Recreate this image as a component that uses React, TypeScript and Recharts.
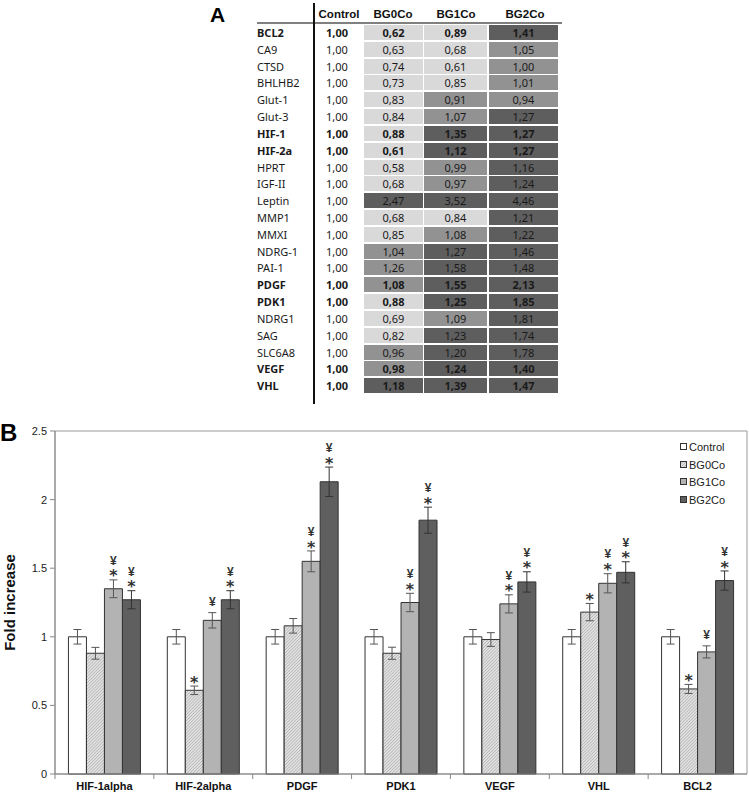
import React from 'react';
import { BarChart, Bar, XAxis, YAxis, ErrorBar, LabelList, Legend, ReferenceArea, ReferenceLine } from 'recharts';

// ---------- Panel A table data ----------
const tableHeaders = ['Control', 'BG0Co', 'BG1Co', 'BG2Co'];
const tableGenes = ['BCL2', 'CA9', 'CTSD', 'BHLHB2', 'Glut-1', 'Glut-3', 'HIF-1', 'HIF-2a', 'HPRT', 'IGF-II', 'Leptin', 'MMP1', 'MMXI', 'NDRG-1', 'PAI-1', 'PDGF', 'PDK1', 'NDRG1', 'SAG', 'SLC6A8', 'VEGF', 'VHL'];
const tableControl = [1, 1, 1, 1, 1, 1, 1, 1, 1, 1, 1, 1, 1, 1, 1, 1, 1, 1, 1, 1, 1, 1];
const tableBG0 = [0.62, 0.63, 0.74, 0.73, 0.83, 0.84, 0.88, 0.61, 0.58, 0.68, 2.47, 0.68, 0.85, 1.04, 1.26, 1.08, 0.88, 0.69, 0.82, 0.96, 0.98, 1.18];
const tableBG1 = [0.89, 0.68, 0.61, 0.85, 0.91, 1.07, 1.35, 1.12, 0.99, 0.97, 3.52, 0.84, 1.08, 1.27, 1.58, 1.55, 1.25, 1.09, 1.23, 1.2, 1.24, 1.39];
const tableBG2 = [1.41, 1.05, 1.0, 1.01, 0.94, 1.27, 1.27, 1.27, 1.16, 1.24, 4.46, 1.21, 1.22, 1.46, 1.48, 2.13, 1.85, 1.81, 1.74, 1.78, 1.4, 1.47];
// change class of each cell: 0 = low, 1 = unchanged, 2 = high
const tableLevel0 = [0, 0, 0, 0, 0, 0, 0, 0, 0, 0, 2, 0, 0, 1, 1, 1, 0, 0, 0, 1, 1, 2];
const tableLevel1 = [0, 0, 0, 0, 1, 1, 2, 2, 1, 1, 2, 0, 1, 2, 2, 2, 2, 1, 2, 2, 2, 2];
const tableLevel2 = [2, 1, 1, 1, 1, 2, 2, 2, 2, 2, 2, 2, 2, 2, 2, 2, 2, 2, 2, 2, 2, 2];
const tableBoldGenes = ['BCL2', 'HIF-1', 'HIF-2a', 'PDGF', 'PDK1', 'VEGF', 'VHL'];

// ---------- Panel B chart data ----------
const categories = ['HIF-1alpha', 'HIF-2alpha', 'PDGF', 'PDK1', 'VEGF', 'VHL', 'BCL2'];
const seriesNames = ['Control', 'BG0Co', 'BG1Co', 'BG2Co'];
const controlValues = [1, 1, 1, 1, 1, 1, 1];
const bg0Values = [0.88, 0.61, 1.08, 0.88, 0.98, 1.18, 0.62];
const bg1Values = [1.35, 1.12, 1.55, 1.25, 1.24, 1.39, 0.89];
const bg2Values = [1.27, 1.27, 2.13, 1.85, 1.4, 1.47, 1.41];
const controlErr = [0.053, 0.053, 0.053, 0.053, 0.053, 0.053, 0.053];
const bg0Err = [0.043, 0.031, 0.053, 0.044, 0.05, 0.063, 0.033];
const bg1Err = [0.065, 0.056, 0.076, 0.067, 0.066, 0.07, 0.044];
const bg2Err = [0.066, 0.066, 0.107, 0.095, 0.074, 0.077, 0.07];
const bg0Sig = ['', '*', '', '', '', '*', '*'];
const bg1Sig = ['¥*', '¥', '¥*', '¥*', '¥*', '¥*', '¥'];
const bg2Sig = ['¥*', '¥*', '¥*', '¥*', '¥*', '¥*', '¥*'];
const yTicks = [0, 0.5, 1, 1.5, 2, 2.5];

const chartData = categories.map((name, i) => ({
  name,
  control: controlValues[i],
  controlErr: controlErr[i],
  bg0: bg0Values[i],
  bg0Err: bg0Err[i],
  bg1: bg1Values[i],
  bg1Err: bg1Err[i],
  bg2: bg2Values[i],
  bg2Err: bg2Err[i],
}));

const shadeColors = ['#d9d9d9', '#929292', '#5e5e5e'];
const seriesFills = ['#ffffff', 'url(#hatch)', '#b3b3b3', '#5f5f5f'];
const ARIAL = 'Arial, "Liberation Sans", sans-serif';
const TABLE_FONT = '"Noto Sans", "Open Sans", sans-serif';

const fmt = (v: number) => v.toFixed(2).replace('.', ',');

// table layout
const ROW_TOP = 25;
const ROW_PITCH = 16.82;
const CELL_H = 15;
const valueCols = [
  { left: 314, width: 46 },
  { left: 364, width: 59 },
  { left: 424, width: 63 },
  { left: 489, width: 69 },
];
const headerCenters = [339, 393, 456, 525];

function TablePanel() {
  const valueSets = [tableControl, tableBG0, tableBG1, tableBG2];
  const levelSets = [null, tableLevel0, tableLevel1, tableLevel2];
  return (
    <div style={{ position: 'absolute', left: 0, top: 0, width: 749, height: 420 }}>
      <div style={{ position: 'absolute', left: 210, top: 3.5, fontFamily: ARIAL, fontWeight: 'bold', fontSize: 21, lineHeight: '21px' }}>A</div>
      {tableHeaders.map((h, j) => (
        <div key={h} style={{ position: 'absolute', left: headerCenters[j] - 40, width: 80, top: 6, textAlign: 'center', fontFamily: ARIAL, fontWeight: 'bold', fontSize: 11.5, color: '#111', lineHeight: '16px' }}>{h}</div>
      ))}
      <div style={{ position: 'absolute', left: 257, top: 22, width: 305, height: 2, background: '#808080' }} />
      <div style={{ position: 'absolute', left: 313, top: 3, width: 2, height: 401, background: '#111' }} />
      {tableGenes.map((g, i) => {
        const top = ROW_TOP + i * ROW_PITCH;
        const bold = tableBoldGenes.includes(g);
        return (
          <React.Fragment key={g}>
            <div style={{ position: 'absolute', left: 257, top, height: CELL_H, lineHeight: CELL_H + 'px', fontFamily: TABLE_FONT, fontSize: 11, fontWeight: bold ? 'bold' : 'normal', color: '#1a1a1a' }}>{g}</div>
            {valueSets.map((vals, j) => {
              const lv = levelSets[j];
              const bg = lv ? shadeColors[lv[i]] : 'transparent';
              return (
                <div key={j} style={{ position: 'absolute', left: valueCols[j].left, width: valueCols[j].width, top, height: CELL_H, lineHeight: CELL_H + 'px', background: bg, textAlign: 'center', fontFamily: TABLE_FONT, fontSize: 11, fontWeight: bold ? 'bold' : 'normal', color: '#1a1a1a' }}>{fmt(vals[i])}</div>
              );
            })}
          </React.Fragment>
        );
      })}
    </div>
  );
}

const makeSigLabel = (sigs: string[], errs: number[], vals: number[]) => (props: any) => {
  const { x, y, width, height, index } = props;
  const sig = sigs[index];
  if (!sig) return null;
  const h = Math.abs(Number(height));
  const top = Math.min(Number(y), Number(y) + Number(height));
  const pxPerUnit = h / vals[index];
  const errTop = top - errs[index] * pxPerUnit;
  const cx = Number(x) + Number(width) / 2;
  const chars = sig.split('').reverse();
  const firstCenter = errTop - (chars[0] === '*' ? 7 : 11);
  return (
    <g>
      {chars.map((ch, k) => {
        const c = firstCenter - k * 12.5;
        if (ch === '*') {
          return (
            <text key={k} x={cx} y={c + 8.6} textAnchor="middle" fontSize={16} fontWeight="bold" fontFamily='"DejaVu Sans", sans-serif' fill="#333">*</text>
          );
        }
        return (
          <text key={k} x={cx} y={c + 4.3} textAnchor="middle" fontSize={12} fontWeight="bold" fontFamily={ARIAL} fill="#333">{ch}</text>
        );
      })}
    </g>
  );
};

const BoundaryTick = (p: any) => {
  const yb = Math.max(Number(p.y1), Number(p.y2));
  return <line x1={p.x1} x2={p.x1} y1={yb} y2={yb + 5} stroke="#888" strokeWidth={1} />;
};

const LegendContent = () => (
  <div style={{ fontFamily: ARIAL, fontSize: 11, color: '#222' }}>
    {seriesNames.map((n, i) => (
      <div key={n} style={{ display: 'flex', alignItems: 'center', height: 17.7 }}>
        <svg width={8} height={8} style={{ marginRight: 1 }}>
          <rect x={0.5} y={0.5} width={6} height={6} fill={seriesFills[i]} stroke="#333" strokeWidth={1} />
        </svg>
        <span>{n}</span>
      </div>
    ))}
  </div>
);

const YLabel = (props: any) => {
  const vb = props.viewBox || {};
  const cx = 9;
  const cy = (vb.y || 0) + (vb.height || 0) / 2;
  return (
    <text x={cx} y={cy} transform={`rotate(-90, ${cx}, ${cy})`} textAnchor="middle" dominantBaseline="central" fontFamily={ARIAL} fontWeight="bold" fontSize={15} fill="#111">Fold increase</text>
  );
};

function ChartPanel() {
  return (
    <div style={{ position: 'absolute', left: 0, top: 390, width: 749, height: 405 }}>
      <BarChart width={749} height={405} data={chartData} margin={{ top: 41, right: 2, bottom: 0, left: 0 }} barCategoryGap="13.6%" barGap={0}>
        <defs>
          <pattern id="hatch" patternUnits="userSpaceOnUse" width="2.2" height="2.2" patternTransform="rotate(45)">
            <rect width="2.2" height="2.2" fill="#e4e4e4" />
            <line x1="0.4" y1="0" x2="0.4" y2="2.2" stroke="#b4b4b4" strokeWidth="0.8" />
          </pattern>
        </defs>
        <ReferenceArea y1={0} y2={2.5} fill="none" stroke="#999" strokeWidth={1} ifOverflow="visible" />
        <XAxis dataKey="name" interval={0} tickLine={false} tickSize={6} height={21} axisLine={{ stroke: '#888' }} tick={{ fontSize: 11, fontWeight: 'bold', fill: '#111', fontFamily: ARIAL }} />
        <YAxis domain={[0, 2.5]} ticks={yTicks} width={55} tickSize={5} tickMargin={3} axisLine={{ stroke: '#888' }} tickLine={{ stroke: '#888' }} tick={{ fontSize: 11, fill: '#222', fontFamily: ARIAL }} label={{ content: YLabel }} />
        {categories.map((c) => (
          <ReferenceLine key={c} x={c} position="start" shape={BoundaryTick} ifOverflow="visible" />
        ))}
        <Legend layout="horizontal" verticalAlign="middle" align="center" content={LegendContent} wrapperStyle={{ left: 680, top: 48, width: 80 }} />
        <Bar dataKey="control" name={seriesNames[0]} fill={seriesFills[0]} stroke="#333" strokeWidth={1} isAnimationActive={false}>
          <ErrorBar dataKey="controlErr" width={4} stroke="#555" strokeWidth={1} direction="y" />
        </Bar>
        <Bar dataKey="bg0" name={seriesNames[1]} fill={seriesFills[1]} stroke="#333" strokeWidth={1} isAnimationActive={false}>
          <ErrorBar dataKey="bg0Err" width={4} stroke="#555" strokeWidth={1} direction="y" />
          <LabelList dataKey="bg0" content={makeSigLabel(bg0Sig, bg0Err, bg0Values)} />
        </Bar>
        <Bar dataKey="bg1" name={seriesNames[2]} fill={seriesFills[2]} stroke="#333" strokeWidth={1} isAnimationActive={false}>
          <ErrorBar dataKey="bg1Err" width={4} stroke="#555" strokeWidth={1} direction="y" />
          <LabelList dataKey="bg1" content={makeSigLabel(bg1Sig, bg1Err, bg1Values)} />
        </Bar>
        <Bar dataKey="bg2" name={seriesNames[3]} fill={seriesFills[3]} stroke="#333" strokeWidth={1} isAnimationActive={false}>
          <ErrorBar dataKey="bg2Err" width={4} stroke="#333" strokeWidth={1} direction="y" />
          <LabelList dataKey="bg2" content={makeSigLabel(bg2Sig, bg2Err, bg2Values)} />
        </Bar>
      </BarChart>
      <div style={{ position: 'absolute', left: 0, top: 31.4, fontFamily: ARIAL, fontWeight: 'bold', fontSize: 24, lineHeight: '24px' }}>B</div>
    </div>
  );
}

export default function App() {
  return (
    <div style={{ position: 'absolute', left: 0, top: 0, width: 749, height: 795, background: '#fff', overflow: 'hidden' }}>
      <TablePanel />
      <ChartPanel />
    </div>
  );
}
